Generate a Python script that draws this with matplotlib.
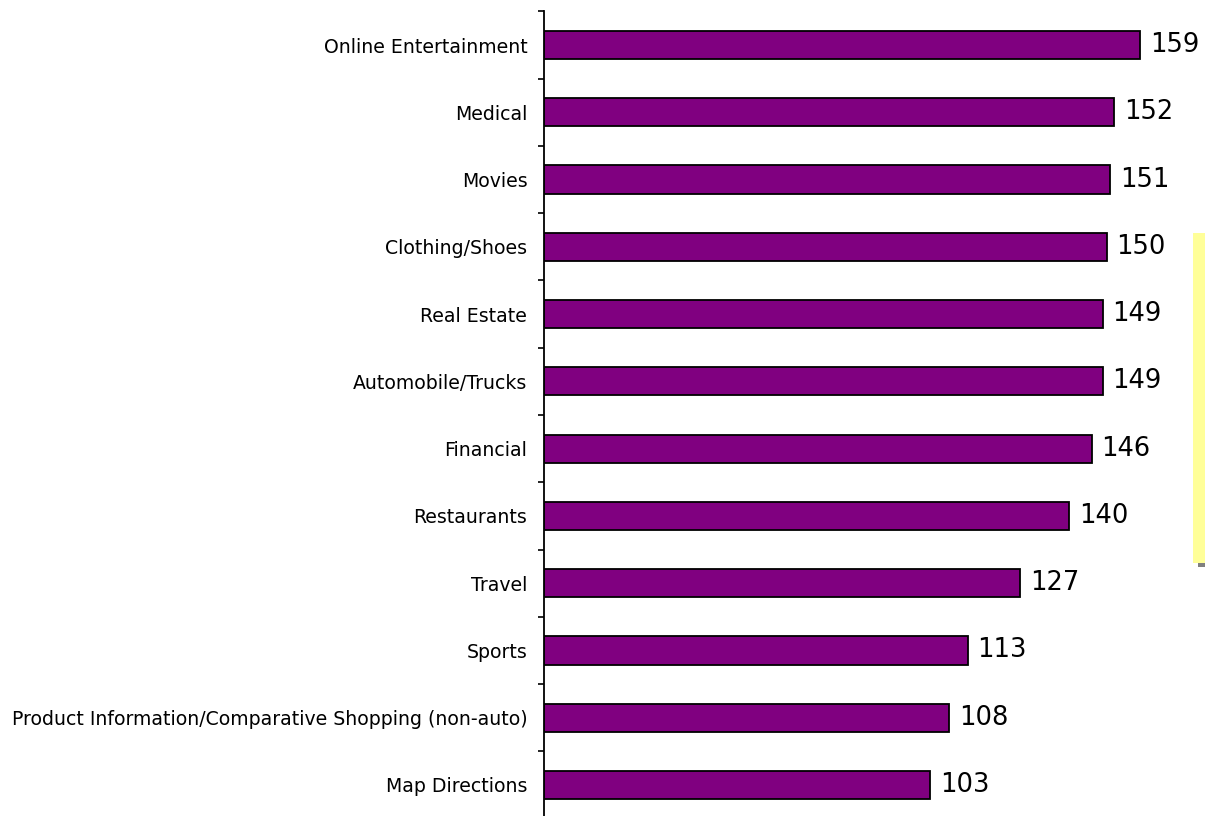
import matplotlib
matplotlib.use('Agg')
import matplotlib.pyplot as plt
from matplotlib.patches import Rectangle
import numpy as np

categories = ['Online Entertainment', 'Medical', 'Movies', 'Clothing/Shoes',
              'Real Estate', 'Automobile/Trucks', 'Financial', 'Restaurants',
              'Travel', 'Sports',
              'Product Information/Comparative Shopping (non-auto)',
              'Map Directions']
values = [159, 152, 151, 150, 149, 149, 146, 140, 127, 113, 108, 103]

W, H = 1205, 816
fig = plt.figure(figsize=(W / 100, H / 100), dpi=100)
fig.patch.set_facecolor('white')

# axes placed in pixel terms: spine at x=544, category bands 67.3 px tall
ax = fig.add_axes([544 / W, 1 - 818.6 / H, (W - 544) / W, 807.2 / H])
ax.set_facecolor('none')

y = np.arange(len(categories))
ax.barh(y, values, height=0.42, color='#800080', edgecolor='black', linewidth=1.3)

ax.set_xlim(0, (W - 544) / 3.75)
ax.set_ylim(len(categories) - 0.5, -0.5)

for s in ['top', 'right', 'bottom']:
    ax.spines[s].set_visible(False)
ax.spines['left'].set_linewidth(1.3)

ax.set_xticks([])
# tick marks sit between categories, labels sit on the bar centres
ax.set_yticks(np.arange(-0.5, len(categories) + 0.5, 1.0))
ax.set_yticklabels([])
ax.tick_params(axis='y', which='major', direction='out', length=4.5, width=1.2)
ax.set_yticks(y, minor=True)
ax.set_yticklabels(categories, minor=True, fontsize=13.6, family='DejaVu Sans')
ax.tick_params(axis='y', which='minor', length=0, pad=12)

for yi, v in zip(y, values):
    ax.annotate(str(v), (v, yi), xytext=(7, 0), textcoords='offset points',
                va='center', ha='left', fontsize=18.5, family='DejaVu Sans')

# pale yellow strip at the right edge
fig.add_artist(Rectangle((1193 / W, 1 - 563 / H), 12 / W, 330 / H,
                         transform=fig.transFigure, facecolor='#FFFF99',
                         edgecolor='none'))
fig.add_artist(Rectangle((1198 / W, 1 - 567 / H), 7 / W, 4 / H,
                         transform=fig.transFigure, facecolor='#808080',
                         edgecolor='none'))

fig.savefig('out.png', dpi=100)
